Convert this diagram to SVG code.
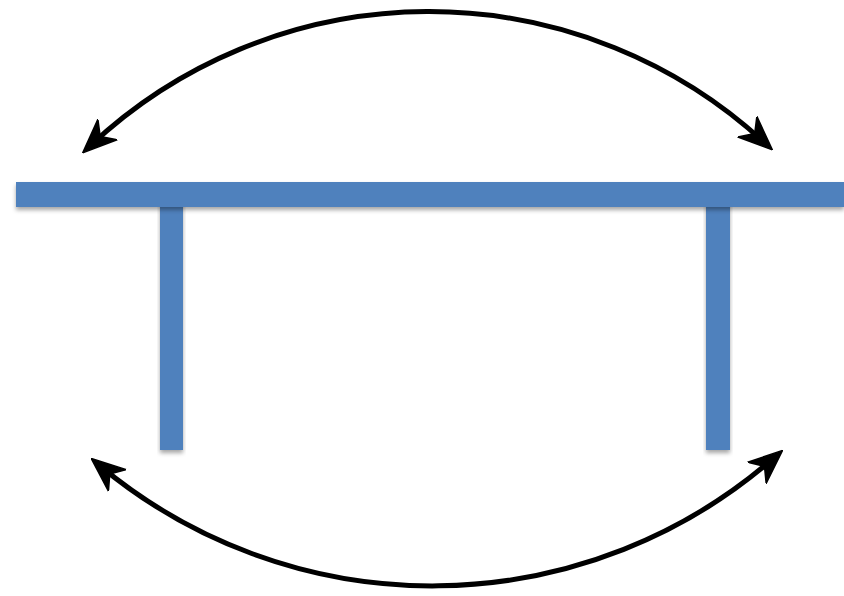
<svg xmlns="http://www.w3.org/2000/svg" width="844" height="596" viewBox="0 0 844 596">
<style>
.bar{fill:#4F81BD;filter:url(#sh)}
.arc{fill:none;stroke:#000;stroke-width:5;marker-start:url(#ah);marker-end:url(#ah)}
</style>
<defs>
<filter id="sh" x="-10%" y="-50%" width="120%" height="200%">
<feDropShadow dx="0" dy="3" stdDeviation="2" flood-color="#000" flood-opacity="0.35"/>
</filter>
<marker id="ah" viewBox="0 0 34 30" refX="24" refY="15" markerWidth="34" markerHeight="30" markerUnits="userSpaceOnUse" orient="auto-start-reverse">
<path d="M0,1 L34,15 L0,29 L10,15 Z" fill="#000" stroke="#000" stroke-width="1.5" stroke-linejoin="round"/>
</marker>
</defs>
<g id="posts">
<rect class="bar" x="160" y="200" width="23" height="250"/>
<rect class="bar" x="706" y="200" width="24" height="250"/>
</g>
<g id="beam">
<rect class="bar" x="16" y="182" width="828" height="25"/>
</g>
<g id="connectors">
<path class="arc" d="M 90,146 A 495 495 0 0 1 765,143"/>
<path class="arc" d="M 99,465 A 520 520 0 0 0 775,457"/>
</g>
</svg>
